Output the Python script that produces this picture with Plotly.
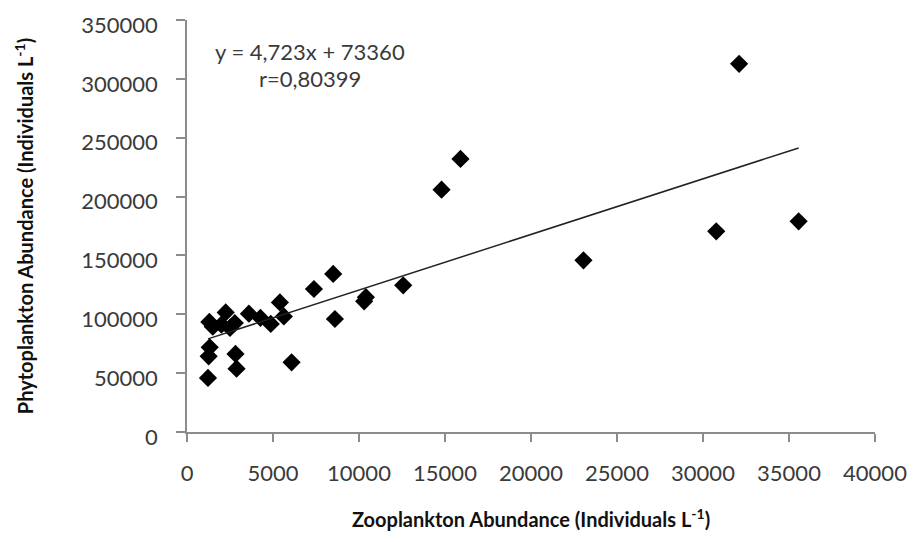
import numpy as np
import plotly.graph_objects as go

# Zooplankton vs phytoplankton abundance (individuals per litre)
zooplankton = [1300, 1500, 2250, 2000, 2500, 2780, 3600, 4270, 4870, 5400,
               5630, 1320, 1260, 2820, 2880, 1220, 6080, 7380, 8500, 10400,
               10300, 8600, 12570, 14800, 15900, 23050, 30770, 35560, 32100]
phytoplankton = [93500, 89500, 101600, 91200, 88400, 92600, 100500, 96900, 91800, 110100,
                 98200, 71900, 64300, 66300, 53800, 45900, 59200, 121500, 134300, 114500,
                 111000, 96000, 124600, 205900, 232000, 145800, 170500, 179000, 312800]

# Linear fit reported on the chart
slope = 4.723
intercept = 73360
r_value = 0.80399

x_ticks = list(range(0, 40001, 5000))
y_ticks = list(range(0, 350001, 50000))

TEXT_FONT = "Lato"
TEXT_COLOR = "#3a3a3a"
AXIS_COLOR = "#8c8c8c"

fig = go.Figure()

fig.add_trace(go.Scatter(
    x=zooplankton, y=phytoplankton, mode="markers",
    marker=dict(symbol="diamond", size=14, color="black", line=dict(width=0)),
    showlegend=False, hoverinfo="x+y",
))

# Trend line across the observed range
x_fit = np.array([min(zooplankton), max(zooplankton)], dtype=float)
y_fit = slope * x_fit + intercept
fig.add_trace(go.Scatter(
    x=x_fit, y=y_fit, mode="lines",
    line=dict(color="#222222", width=1.5),
    showlegend=False, hoverinfo="skip",
))

def comma_decimal(v, digits):
    return f"{v:.{digits}f}".replace(".", ",")

eq_text = f"y = {comma_decimal(slope, 3)}x + {intercept}"
r_text = f"r={comma_decimal(r_value, 5)}"

fig.add_annotation(x=7142, y=323000, xref="x", yref="y", text=eq_text,
                   showarrow=False, xanchor="center", yanchor="middle",
                   font=dict(family=TEXT_FONT, size=22, color=TEXT_COLOR))
fig.add_annotation(x=7142, y=300500, xref="x", yref="y", text=r_text,
                   showarrow=False, xanchor="center", yanchor="middle",
                   font=dict(family=TEXT_FONT, size=22, color=TEXT_COLOR))

fig.update_layout(
    width=914, height=542,
    margin=dict(l=187, r=39, t=20, b=110, autoexpand=False),
    paper_bgcolor="white", plot_bgcolor="white",
    font=dict(family=TEXT_FONT, color=TEXT_COLOR),
    xaxis=dict(
        range=[0, 40000], tickvals=x_ticks, ticktext=[str(v) for v in x_ticks],
        automargin=False,
        showgrid=False, zeroline=False,
        showline=True, linecolor=AXIS_COLOR, linewidth=1.5,
        ticks="outside", ticklen=8, tickwidth=1.5, tickcolor=AXIS_COLOR,
        tickfont=dict(family=TEXT_FONT, size=22, color=TEXT_COLOR),
        ticklabelstandoff=13,
        title=dict(text="<b>Zooplankton Abundance (Individuals L<sup>-1</sup>)</b>",
                   font=dict(family=TEXT_FONT, size=20, color="#111111"),
                   standoff=28),
    ),
    yaxis=dict(
        range=[0, 350000], tickvals=y_ticks, ticktext=[str(v) for v in y_ticks],
        automargin=False,
        showgrid=False, zeroline=False,
        showline=True, linecolor=AXIS_COLOR, linewidth=1.5,
        ticks="outside", ticklen=9, tickwidth=1.5, tickcolor=AXIS_COLOR,
        tickfont=dict(family=TEXT_FONT, size=22, color=TEXT_COLOR),
        ticklabelstandoff=14, ticklabelshift=5,
        title=dict(text="<b>Phytoplankton Abundance (Individuals L<sup>-1</sup>)</b>",
                   font=dict(family=TEXT_FONT, size=20, color="#111111"),
                   standoff=42),
    ),
)

fig.write_html("out.html")
